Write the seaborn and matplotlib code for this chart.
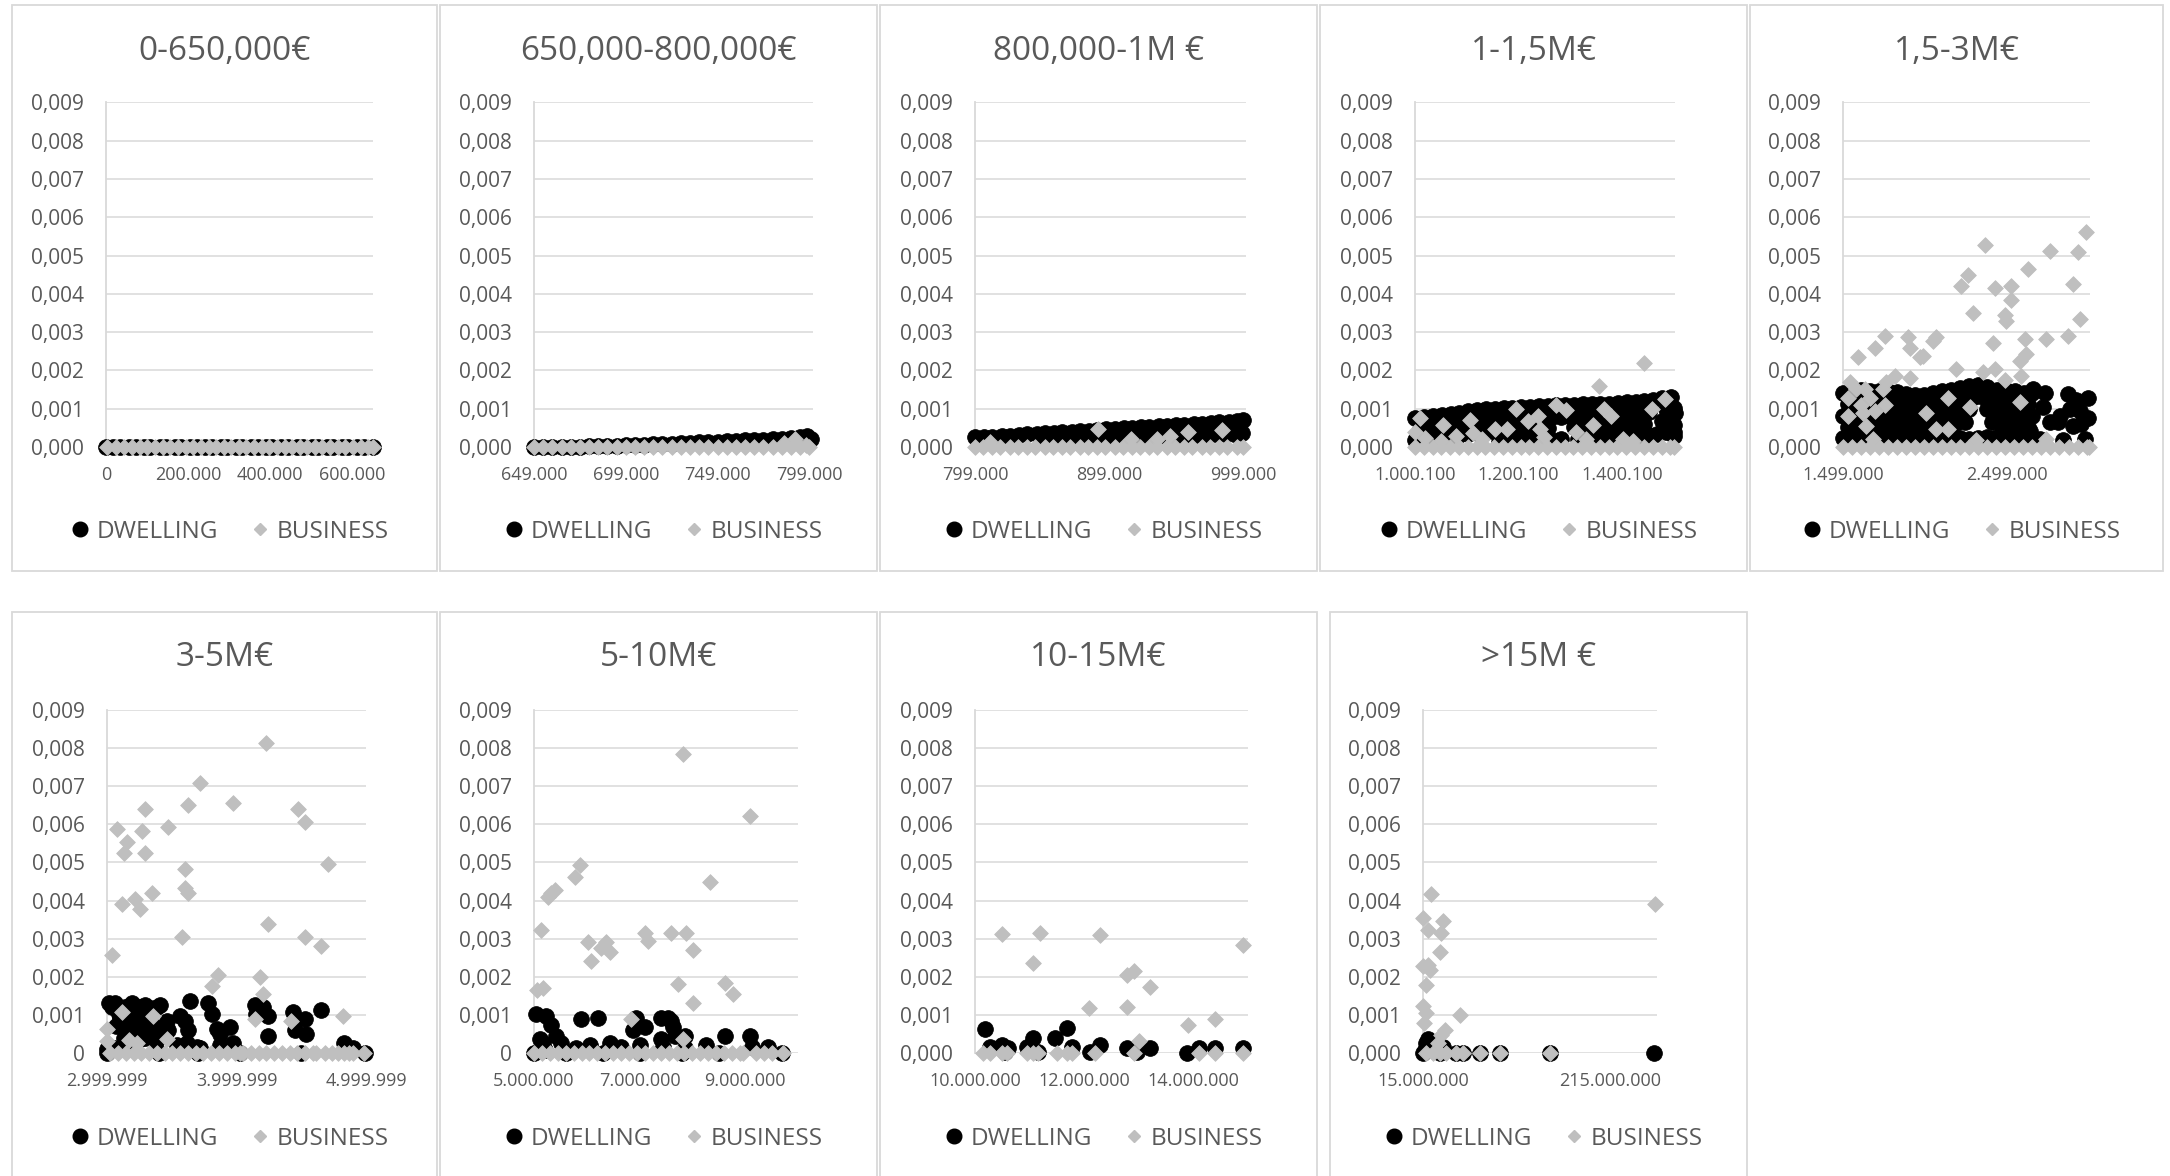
import numpy as np
import pandas as pd
import matplotlib
matplotlib.use("Agg")
import matplotlib.pyplot as plt
from matplotlib.lines import Line2D
from matplotlib.patches import Rectangle
from matplotlib.ticker import FixedLocator, FuncFormatter
import seaborn as sns

nan = float("nan")

# ---------------------------------------------------------------------------
# Data: property price (thousand EUR) and share for each property,
# split into DWELLING and BUSINESS points for every price band.
# ---------------------------------------------------------------------------
TITLES = ["0-650,000€", "650,000-800,000€", "800,000-1M €", "1-1,5M€", "1,5-3M€",
          "3-5M€", "5-10M€", "10-15M€", ">15M €"]
SERIES = ["DWELLING", "BUSINESS"]
Y_TICKS = [0.000, 0.001, 0.002, 0.003, 0.004, 0.005, 0.006, 0.007, 0.008, 0.009]

# 0 - 650,000
d1_x = [0, 16, 35, 57, 72, 93, 108, 131, 147, 168, 183, 205, 221, 242, 258, 279, 294, 316,
        331, 353, 369, 390, 405, 427, 442, 464, 480, 501, 517, 538, 553, 575, 590, 612, 627, 649]
d1_y = [0, 0, 0, 0, 0, 0, 0, 0, 0, 0, 0, 0, 0, 0, 0, 0, 0, 0,
        0, 0, 0, 0, 0, 0, 0, 0, 0, 0, 0, 0, 0, 0, 0, 0, 0, 0]
b1_x = [2, 24, 44, 63, 83, 101, 120, 139, 157, 176, 194, 213, 231, 250, 268, 287, 305, 324,
        342, 361, 379, 398, 416, 435, 453, 472, 490, 509, 527, 546, 564, 583, 601, 620, 638, 650]
b1_y = [0, 0, 0, 0, 0, 0, 0, 0, 0, 0, 0, 0, 0, 0, 0, 0, 0, 0,
        0, 0, 0, 0, 0, 0, 0, 0, 0, 0, 0, 0, 0, 0, 0, 0, 0, 0]

# 650,000 - 800,000
d2_x = [649, 654, 659, 664, 669, 674, 679, 684, 689, 694, 699, 704, 709, 714, 719, 724,
        729, 734, 739, 744, 749, 754, 759, 764, 769, 774, 779, 784, 789, 794, 798, 800]
d2_y = [0.0, 0.0, 0.00001, 0.0, 0.00001, 0.00001, 0.00002, 0.00002, 0.00003, 0.00003,
        0.00004, 0.00005, 0.00006, 0.00007, 0.00008, 0.00009, 0.0001, 0.00011, 0.00012,
        0.00013, 0.00014, 0.00015, 0.00016, 0.00017, 0.00018, 0.00019, 0.0002, 0.00021,
        0.00023, 0.00025, 0.00028, 0.00022]
b2_x = [649, 654, 659, 664, 669, 674, 679, 684, 689, 694, 699, 704, 709, 714, 719, 724,
        729, 734, 739, 744, 749, 754, 759, 764, 769, 774, 779, 784, 789, 794, 799]
b2_y = [0, 0, 0, 0, 0, 0, 0, 0, 0, 0, 0, 0, 0, 0, 0, 0,
        0, 0, 0, 0, 0, 0, 0, 0, 0, 0, 0, 0, 0, 0, 0]
b2_hi_x = [785, 791, 797]
b2_hi_y = [0.0001, 0.00022, 0.00006]

# 800,000 - 1M
d3a_x = [799, 806, 812, 819, 825, 832, 838, 845, 851, 858, 864, 871, 877, 884, 890, 897,
         903, 910, 916, 923, 929, 936, 942, 949, 955, 962, 968, 975, 981, 988, 994, 999]
d3a_y = [0.00025, 0.00026, 0.00027, 0.00029, 0.0003, 0.00031, 0.00033, 0.00034, 0.00036,
         0.00037, 0.00039, 0.0004, 0.00041, 0.00043, 0.00044, 0.00046, 0.00047, 0.00049,
         0.0005, 0.00051, 0.00053, 0.00054, 0.00056, 0.00057, 0.00058, 0.0006, 0.00061,
         0.00063, 0.00064, 0.00066, 0.00069, 0.00071]
d3b_x = [852, 859, 866, 873, 880, 887, 894, 901, 908, 915, 922, 929, 936, 943, 950, 957,
         964, 971, 978, 985, 992, 998]
d3b_y = [0.00018, 0.00019, 0.0002, 0.0002, 0.00021, 0.00022, 0.00023, 0.00024, 0.00025,
         0.00025, 0.00026, 0.00027, 0.00028, 0.00029, 0.00029, 0.0003, 0.00031, 0.00032,
         0.00033, 0.00033, 0.00034, 0.00036]
b3_x = [799, 805, 812, 818, 825, 831, 838, 844, 851, 857, 864, 870, 877, 883, 890, 896,
        903, 909, 916, 922, 929, 935, 942, 948, 955, 961, 968, 974, 981, 987, 994, 999]
b3_y = [0, 0, 0, 0, 0, 0, 0, 0, 0, 0, 0, 0, 0, 0, 0, 0,
        0, 0, 0, 0, 0, 0, 0, 0, 0, 0, 0, 0, 0, 0, 0, 0]
b3_hi_x = [810, 891, 915, 935, 944, 958, 983]
b3_hi_y = [0.00012, 0.00048, 0.00022, 0.0002, 0.0003, 0.0004, 0.00045]

# 1 - 1,5M
d4a_x = [1001, 1018, 1035, 1052, 1069, 1086, 1103, 1120, 1137, 1154, 1171, 1188, 1205, 1222,
         1239, 1256, 1273, 1290, 1307, 1324, 1341, 1358, 1375, 1392, 1409, 1426, 1443, 1460,
         1477, 1494]
d4b_x = [1009, 1026, 1043, 1060, 1077, 1094, 1111, 1128, 1145, 1162, 1179, 1196, 1213, 1230,
         1247, 1264, 1281, 1298, 1315, 1332, 1349, 1366, 1383, 1400, 1417, 1434, 1451, 1468,
         1485, 1500]
d4_top = [0.00075, 0.00078, 0.00081, 0.00084, 0.00087, 0.0009, 0.00093, 0.00096, 0.00098,
          0.00099, 0.00101, 0.00102, 0.00104, 0.00105, 0.00107, 0.00108, 0.00109, 0.00109,
          0.0011, 0.00111, 0.00112, 0.00112, 0.00113, 0.00115, 0.00117, 0.00118, 0.0012,
          0.00123, 0.00127, 0.0013]
d4_upper = [0.00047, 0.0005, 0.00053, 0.00056, 0.00059, 0.00062, 0.00064, 0.00067, 0.00069,
            0.0007, 0.00072, 0.00073, 0.00075, 0.00076, 0.00078, 0.00078, 0.00079, 0.0008,
            0.00081, 0.00082, 0.00082, 0.00083, 0.00084, 0.00086, 0.00088, 0.00089, 0.00092,
            nan, 0.00099, 0.00102]
d4_lower = [0.00017, 0.0002, 0.00022, 0.00025, 0.00028, 0.00031, 0.00034, 0.00037, 0.00039,
            0.0004, 0.00042, 0.00043, 0.00045, 0.00046, 0.00048, 0.00049, nan, nan,
            0.00051, 0.00052, 0.00053, 0.00053, 0.00054, 0.00056, 0.00058, 0.00059, 0.00061,
            nan, 0.00068, 0.00071]
d4_base = [nan, nan, nan, nan, nan, nan, nan, nan, nan, 0.00012, 0.00013, 0.00014, 0.00015,
           0.00016, 0.00018, 0.00019, 0.0002, nan, 0.00021, 0.00022, 0.00023, 0.00023,
           0.00024, 0.00026, 0.00028, 0.00029, 0.00031, 0.00035, 0.00038, 0.0004]
d4c_x = [1502, 1501, 1500]
d4c_y = [0.00088, 0.00058, 0.0003]
b4_x = [1000, 1017, 1034, 1051, 1068, 1085, 1102, 1119, 1136, 1153, 1170, 1187, 1204, 1221,
        1238, 1255, 1272, 1289, 1306, 1323, 1340, 1357, 1374, 1391, 1408, 1425, 1442, 1459,
        1476, 1493, 1501]
b4_y = [0, 0, 0, 0, 0, 0, 0, 0, 0, 0, 0, 0, 0, 0, 0, 0, 0, 0, 0, 0, 0, 0, 0, 0, 0, 0, 0, 0,
        0, 0, 0]
b4_hi_x = [1000, 1010, 1020, 1050, 1055, 1080, 1106, 1112, 1130, 1154, 1177, 1196, 1218, 1237,
           1241, 1250, 1273, 1292, 1311, 1330, 1343, 1356, 1365, 1378, 1401, 1420, 1442, 1458,
           1483]
b4_hi_y = [0.0004, 0.00076, 0.00024, 0.00015, 0.00057, 0.00029, 0.00071, 0.00036, 0.0002,
           0.00048, 0.00046, 0.001, 0.00067, 0.00081, 0.00048, 0.00025, 0.0011, 0.00097,
           0.00038, 0.00022, 0.00057, 0.0016, 0.001, 0.00081, 0.0002, 0.00015, 0.0022, 0.001,
           0.00126]

# 1,5 - 3M
d5a_x = [1500, 1555, 1610, 1665, 1720, 1775, 1830, 1885, 1940, 1995, 2050, 2105, 2160, 2215,
         2270, 2325, 2380, 2435, 2490, 2545, 2600, 2650]
d5b_x = [1527, 1582, 1637, 1692, 1747, 1802, 1857, 1912, 1967, 2022, 2077, 2132, 2187, 2242,
         2297, 2352, 2407, 2462, 2517, 2572, 2627]
d5_r1 = [0.0014, 0.00145, 0.00148, 0.00146, 0.00147, 0.00145, 0.00144, 0.00138, 0.00137,
         0.00136, 0.0014, 0.00145, 0.0015, 0.00155, 0.0016, 0.00163, 0.00158, 0.0015, 0.00148,
         0.00146, 0.00142, 0.0014]
d5_r2 = [0.00112, 0.00116, 0.00117, 0.00116, 0.00116, 0.00112, 0.00109, 0.00107, 0.00106,
         0.00108, 0.00112, 0.00117, 0.00122, 0.00127, 0.0013, 0.0013, 0.00124, 0.00119,
         0.00117, 0.00114, 0.00111]
d5_r3 = [0.00082, 0.00085, 0.00088, 0.00086, 0.00087, 0.00085, 0.00084, 0.00078, 0.00077,
         0.00076, 0.0008, 0.00085, 0.0009, 0.00095, 0.001, nan, 0.00098, 0.0009, 0.00088,
         0.00086, 0.00082, 0.0008]
d5_r4 = [0.00052, 0.00055, 0.00058, 0.00056, 0.00056, 0.00052, 0.00049, 0.00047, 0.00046,
         0.00048, 0.00052, 0.00057, 0.00062, 0.00066, nan, nan, 0.00064, 0.00059, 0.00057,
         0.00054, 0.00051]
d5_r5 = [0.00024, 0.00022, 0.00025, 0.00023, 0.00024, 0.00022, 0.00021, 0.0002, 0.00022,
         0.00024, 0.00023, 0.00025, 0.00026, 0.00024, 0.00022, 0.00023, 0.00026, 0.00025,
         0.00024, 0.00022, 0.0002, 0.00021]
d5c_x = [2658, 2729, 2719, 2759, 2810, 2871, 2922, 2993, 2881, 2902, 2953, 2973, 2820, 2637,
         2566, 2617, 2942, 2698, 2841, 2993]
d5c_y = [0.00152, 0.00142, 0.00104, 0.00065, 0.00065, 0.00138, 0.00123, 0.00128, 0.00099,
         0.00056, 0.00061, 0.00022, 0.0008, 0.00041, 0.00061, 0.00013, 0.00094, 0.00022,
         0.00017, 0.00075]
b5_x = [1499, 1554, 1609, 1664, 1719, 1774, 1829, 1884, 1939, 1994, 2049, 2104, 2159, 2214,
        2269, 2324, 2379, 2434, 2489, 2544, 2599, 2654, 2709, 2764, 2819, 2874, 2929, 2984,
        3000]
b5_y = [0, 0, 0, 0, 0, 0, 0, 0, 0, 0, 0, 0, 0, 0, 0, 0, 0, 0, 0, 0, 0, 0, 0, 0, 0, 0, 0, 0, 0]
b5_hi_x = [1540, 1590, 1529, 1529, 1580, 1611, 1631, 1621, 1641, 1662, 1692, 1692, 1753, 1743,
           1753, 1763, 1814, 1895, 1906, 1906, 1967, 1987, 2048, 2068, 2007, 2068, 2139, 2139,
           2190, 2221, 2261, 2292, 2272, 2363, 2353, 2414, 2424, 2424, 2485, 2495, 2485, 2526,
           2526, 2577, 2577, 2587, 2607, 2617, 2627, 2739, 2759, 2871, 2902, 2932, 2942, 2983,
           2739, 2312, 1682]
b5_hi_y = [0.00171, 0.00234, 0.00128, 0.0008, 0.00152, 0.00109, 0.00152, 0.00089, 0.00056,
           0.00128, 0.00258, 0.00094, 0.00291, 0.00152, 0.00109, 0.00171, 0.00186, 0.00287,
           0.00258, 0.00181, 0.00234, 0.00238, 0.00277, 0.00287, 0.00089, 0.00046, 0.00128,
           0.00046, 0.00205, 0.00421, 0.0045, 0.00349, 0.00104, 0.00527, 0.00195, 0.00272,
           0.00416, 0.00205, 0.00344, 0.0033, 0.00176, 0.00421, 0.00383, 0.00224, 0.00118,
           0.00186, 0.00282, 0.00243, 0.00464, 0.00282, 0.00513, 0.00291, 0.00426, 0.00508,
           0.00335, 0.00561, 0.00022, 0.00017, 0.00022]

# 3 - 5M
d6_x = [3013, 3064, 3090, 3141, 3192, 3218, 3256, 3295, 3333, 3385, 3410, 3103, 3205, 3282,
        3308, 3333, 3205, 3256, 3154, 3051, 3000, 3462, 3474, 3449, 3564, 3603, 3628, 3641,
        3782, 3808, 3846, 3872, 3949, 3974, 3872, 3692, 3538, 4141, 4205, 4243, 4243, 4154,
        4436, 4449, 4526, 4538, 4654, 4833, 4897, 3615, 3718, 3000, 3400, 3700, 4030, 4500,
        4990, 3040, 3120, 3170, 3240, 3320, 3360, 3290, 3380, 3230, 3130, 3070]
d6_y = [0.00132, 0.00132, 0.00103, 0.00122, 0.00132, 0.00117, 0.00122, 0.00127, 0.00117,
        0.00122, 0.00127, 0.00093, 0.00093, 0.00084, 0.00064, 0.00045, 0.0005, 0.00036,
        0.00021, 0.00012, 0.0001, 0.00084, 0.0006, 0.0005, 0.00098, 0.00084, 0.0006, 0.00136,
        0.00132, 0.00103, 0.00064, 0.0005, 0.00069, 0.00026, 0.00021, 0.00016, 0.00021,
        0.00127, 0.00122, 0.00098, 0.00045, 0.00103, 0.00108, 0.0006, 0.00088, 0.0005,
        0.00112, 0.00026, 0.00012, 0.00026, 0.00012, 0.0, 0.0, 0.0, 0.0, 0.0, 0.0,
        0.0012, 0.0011, 0.0007, 0.0009, 0.001, 0.0007, 0.0004, 0.0003, 0.0006, 0.0004, 0.0007]
b6_x = [3026, 3085, 3145, 3205, 3265, 3325, 3385, 3445, 3505, 3565, 3625, 3685, 3745, 3805,
        3865, 3925, 3985, 4026, 4051, 4110, 4170, 4230, 4290, 4350, 4410, 4470, 4530, 4590,
        4615, 4680, 4740, 4780, 4830, 4870, 4897, 4987]
b6_y = [0, 0, 0, 0, 0, 0, 0, 0, 0, 0, 0, 0, 0, 0, 0, 0, 0, 0, 0, 0, 0, 0, 0, 0, 0, 0, 0, 0,
        0, 0, 0, 0, 0, 0, 0, 0]
b6_hi_x = [3038, 3000, 3000, 3077, 3128, 3154, 3115, 3115, 3218, 3256, 3269, 3295, 3295, 3346,
           3359, 3167, 3231, 3474, 3462, 3577, 3603, 3603, 3628, 3628, 3718, 3808, 3859, 3974,
           4141, 4179, 4205, 4231, 4243, 4423, 4474, 4526, 4526, 4654, 4705, 4820]
b6_hi_y = [0.00256, 0.00064, 0.00031, 0.00588, 0.00525, 0.00554, 0.00391, 0.00108, 0.00405,
           0.00377, 0.00583, 0.00525, 0.00641, 0.0042, 0.00098, 0.00035, 0.00026, 0.00593,
           0.00036, 0.00305, 0.00482, 0.00434, 0.0042, 0.0065, 0.00708, 0.00175, 0.00204,
           0.00655, 0.00088, 0.00199, 0.00156, 0.00814, 0.00338, 0.00084, 0.00641, 0.00607,
           0.00305, 0.00281, 0.00497, 0.00098]

# 5 - 10M
d7_x = [5044, 5234, 5329, 5423, 5518, 5107, 5171, 5202, 5897, 6213, 6434, 6055, 5803, 6877,
        6940, 7098, 7003, 6656, 7414, 7540, 7603, 7635, 7414, 7667, 7856, 7446, 7856, 8267,
        8614, 9088, 9436, 9120, 5000, 5600, 6300, 7000, 7800, 8500, 9700]
d7_y = [0.00103, 0.00098, 0.00074, 0.00045, 0.00026, 0.00036, 0.00026, 0.00007, 0.00088,
        0.00093, 0.00026, 0.00021, 0.00012, 0.0006, 0.00093, 0.00069, 0.00021, 0.00016,
        0.00093, 0.00093, 0.00084, 0.00069, 0.00036, 0.00045, 0.00045, 0.00016, 0.00012,
        0.00021, 0.00045, 0.00045, 0.00016, 0.00016, 0.0, 0.0, 0.0, 0.0, 0.0, 0.0, 0.0]
b7_x = [5000, 5150, 5300, 5450, 5600, 5750, 5900, 6050, 6200, 6350, 6500, 6650, 6800, 6950,
        7100, 7250, 7400, 7550, 7700, 7850, 8000, 8150, 8300, 8450, 8600, 8750, 8900, 8960,
        9200, 9350, 9500, 9720]
b7_y = [0, 0, 0, 0, 0, 0, 0, 0, 0, 0, 0, 0, 0, 0, 0, 0, 0, 0, 0, 0, 0, 0, 0, 0, 0, 0, 0, 0,
        0, 0, 0, 0]
b7_hi_x = [5057, 5171, 5139, 5265, 5392, 5329, 5771, 5866, 6024, 6087, 6276, 6371, 6434, 6845,
           7098, 7161, 7603, 7730, 7825, 7888, 8014, 8014, 8330, 8614, 8772, 9088, 7825]
b7_hi_y = [0.00165, 0.0017, 0.00324, 0.0041, 0.00429, 0.0042, 0.00463, 0.00492, 0.0029,
           0.00242, 0.00276, 0.0029, 0.00266, 0.00088, 0.00314, 0.00295, 0.00314, 0.0018,
           0.00785, 0.00314, 0.00271, 0.00132, 0.00449, 0.00184, 0.00156, 0.00622, 0.00036]

# 10 - 15M
d8_x = [10183, 10275, 10489, 10612, 10550, 10948, 11070, 11162, 11468, 11682, 11774, 12110,
        12294, 12783, 12966, 13211, 13884, 14098, 14404, 14911]
d8_y = [0.00064, 0.00016, 0.00021, 0.00012, 0.00002, 0.00016, 0.0004, 0.00002, 0.0004,
        0.00066, 0.00016, 0.00002, 0.00021, 0.00012, 0.00002, 0.00012, 0.0, 0.00014, 0.00014,
        0.00012]
b8_x = [10153, 10275, 10489, 10581, 10948, 11070, 11162, 11498, 11682, 11774, 12202, 12905,
        14098, 14404, 14911]
b8_y = [0, 0, 0, 0, 0, 0, 0, 0, 0, 0, 0, 0, 0, 0, 0]
b8_hi_x = [10489, 11070, 11193, 12079, 12294, 12783, 12783, 12905, 12997, 13199, 13896, 14404,
           14911]
b8_hi_y = [0.00312, 0.00237, 0.00314, 0.00119, 0.00309, 0.00122, 0.00204, 0.00216, 0.00031,
           0.00173, 0.00074, 0.00088, 0.00283]

# above 15M
d9_x = [17852, 20348, 22843, 27478, 36390, 16783, 32825, 50650, 57780, 75605, 96995, 150470,
        262055, 15000]
d9_y = [0.00026, 0.00036, 0.00026, 0.00012, 0.00017, 0.00007, 0.0, 0.0, 0.0, 0.0, 0.0, 0.0,
        0.0, 0.0]
b9_x = [18565, 25695, 32825, 39955, 50650, 57780, 75605, 96995, 150470]
b9_y = [0, 0, 0, 0, 0, 0, 0, 0, 0]
b9_hi_x = [23913, 15000, 20348, 36390, 34608, 32825, 15000, 20348, 22130, 17852, 15000, 17852,
           15713, 54215, 38173, 34608, 262768, 31043]
b9_hi_y = [0.00417, 0.00354, 0.00324, 0.00346, 0.00316, 0.00266, 0.00227, 0.00231, 0.00217,
           0.00178, 0.00124, 0.00104, 0.0008, 0.001, 0.00061, 0.00046, 0.00391, 0.00026]

# x-axis tick positions (EUR) for each band
X_TICKS = [
    [0, 200000, 400000, 600000],
    [649000, 699000, 749000, 799000],
    [799000, 899000, 999000],
    [1000100, 1200100, 1400100],
    [1499000, 2499000],
    [2999999, 3999999, 4999999],
    [5000000, 7000000, 9000000],
    [10000000, 12000000, 14000000],
    [15000000, 215000000],
]
X_LIMS = [(0, 650000), (649000, 801000), (799000, 1001000), (1000100, 1502000),
          (1499000, 3005000), (2999999, 4999999), (5000000, 10000000),
          (10000000, 15000000), (15000000, 265000000)]


def points(pairs):
    """Stack (price in kEUR, share) lists into one frame, dropping gaps."""
    frames = []
    for xs, ys in pairs:
        frames.append(pd.DataFrame({"price": np.asarray(xs, float) * 1000.0,
                                    "share": np.asarray(ys, float)}))
    return pd.concat(frames, ignore_index=True).dropna()


DWELL = [
    points([(d1_x, d1_y)]),
    points([(d2_x, d2_y)]),
    points([(d3b_x, d3b_y), (d3a_x, d3a_y)]),
    points([(d4b_x, d4_base), (d4a_x, d4_lower), (d4b_x, d4_upper), (d4a_x, d4_top),
            (d4c_x, d4c_y)]),
    points([(d5a_x, d5_r5), (d5b_x, d5_r4), (d5a_x, d5_r3), (d5b_x, d5_r2), (d5a_x, d5_r1),
            (d5c_x, d5c_y)]),
    points([(d6_x, d6_y)]),
    points([(d7_x, d7_y)]),
    points([(d8_x, d8_y)]),
    points([(d9_x, d9_y)]),
]
BUSINESS = [
    points([(b1_x, b1_y)]),
    points([(b2_x, b2_y), (b2_hi_x, b2_hi_y)]),
    points([(b3_x, b3_y), (b3_hi_x, b3_hi_y)]),
    points([(b4_x, b4_y), (b4_hi_x, b4_hi_y)]),
    points([(b5_x, b5_y), (b5_hi_x, b5_hi_y)]),
    points([(b6_x, b6_y), (b6_hi_x, b6_hi_y)]),
    points([(b7_x, b7_y), (b7_hi_x, b7_hi_y)]),
    points([(b8_x, b8_y), (b8_hi_x, b8_hi_y)]),
    points([(b9_x, b9_y), (b9_hi_x, b9_hi_y)]),
]

# ---------------------------------------------------------------------------
# Layout (pixels of the 2170 x 1176 canvas)
# ---------------------------------------------------------------------------
W, H = 2170, 1176
TEXT = "#595959"
GRID = "#D9D9D9"
DOT = "#000000"
DIAMOND = "#BFBFBF"

ROW_Y = [dict(box=(5, 571), plot=(102.4, 447.0), title=52, legend=532),
         dict(box=(612, 1200), plot=(710.0, 1053.0), title=658, legend=1139)]
PANELS = [
    dict(row=0, box=(12, 437), plot=(106, 373), short_zero=False),
    dict(row=0, box=(440, 877), plot=(534, 813), short_zero=False),
    dict(row=0, box=(880, 1317), plot=(975, 1246), short_zero=False),
    dict(row=0, box=(1320, 1747), plot=(1415, 1675), short_zero=False),
    dict(row=0, box=(1750, 2163), plot=(1843, 2090), short_zero=False),
    dict(row=1, box=(12, 437), plot=(107, 366), short_zero=True),
    dict(row=1, box=(440, 877), plot=(534, 798), short_zero=True),
    dict(row=1, box=(880, 1317), plot=(975, 1248), short_zero=False),
    dict(row=1, box=(1330, 1747), plot=(1423, 1657), short_zero=False),
]

sns.set_theme(style="white")
plt.rcParams["font.family"] = ["Open Sans", "DejaVu Sans"]

fig = plt.figure(figsize=(W / 100, H / 100), dpi=100)
fig.patch.set_facecolor("white")


def x_label(v, pos):
    return f"{int(round(v)):,}".replace(",", ".")


def y_formatter(short_zero):
    def fmt(v, pos):
        if short_zero and abs(v) < 1e-12:
            return "0"
        return f"{v:.3f}".replace(".", ",")
    return FuncFormatter(fmt)


legend_handles = [
    Line2D([], [], ls="none", marker="o", ms=10.5, mfc=DOT, mec=DOT),
    Line2D([], [], ls="none", marker="D", ms=6.4, mfc=DIAMOND, mec=DIAMOND),
]

for i, p in enumerate(PANELS):
    row = ROW_Y[p["row"]]
    bx0, bx1 = p["box"]
    by0, by1 = row["box"]
    fig.add_artist(Rectangle((bx0 / W, 1 - by1 / H), (bx1 - bx0) / W, (by1 - by0) / H,
                             transform=fig.transFigure, fill=False, edgecolor=GRID, lw=1.3))

    px0, px1 = p["plot"]
    py0, py1 = row["plot"]
    ax = fig.add_axes([px0 / W, 1 - py1 / H, (px1 - px0) / W, (py1 - py0) / H])
    ax.set_facecolor("none")
    ax.set_xlim(*X_LIMS[i])
    ax.set_ylim(0, 0.009)
    ax.yaxis.set_major_locator(FixedLocator(Y_TICKS))
    ax.yaxis.set_major_formatter(y_formatter(p["short_zero"]))
    ax.xaxis.set_major_locator(FixedLocator(X_TICKS[i]))
    ax.xaxis.set_major_formatter(FuncFormatter(x_label))
    ax.grid(axis="y", color=GRID, lw=1.1)
    ax.grid(axis="x", visible=False)
    ax.set_axisbelow(True)
    for side in ("top", "right", "bottom"):
        ax.spines[side].set_visible(False)
    ax.spines["left"].set_color(GRID)
    ax.spines["left"].set_linewidth(1.3)
    ax.tick_params(axis="y", length=0, pad=16, labelsize=15, labelcolor=TEXT)
    ax.tick_params(axis="x", length=0, pad=14, labelsize=13, labelcolor=TEXT)

    sns.scatterplot(data=DWELL[i], x="price", y="share", ax=ax, marker="o", s=128,
                    color=DOT, edgecolor=DOT, linewidth=0.6, clip_on=False, zorder=3,
                    legend=False)
    sns.scatterplot(data=BUSINESS[i], x="price", y="share", ax=ax, marker="D", s=64,
                    color=DIAMOND, edgecolor=DIAMOND, linewidth=0.6, clip_on=False,
                    zorder=4, legend=False)
    ax.set_xlabel("")
    ax.set_ylabel("")

    cx = (bx0 + bx1) / 2
    fig.text(cx / W, 1 - row["title"] / H, TITLES[i], ha="center", va="center",
             fontsize=24, color=TEXT)
    fig.legend(legend_handles, SERIES, loc="center",
               bbox_to_anchor=((cx + 5) / W, 1 - row["legend"] / H), ncol=2,
               frameon=False, fontsize=17.5, labelcolor=TEXT, handlelength=0.8,
               handletextpad=0.3, columnspacing=1.3, borderpad=0.0)

fig.savefig("out.png", dpi=100, facecolor="white")
